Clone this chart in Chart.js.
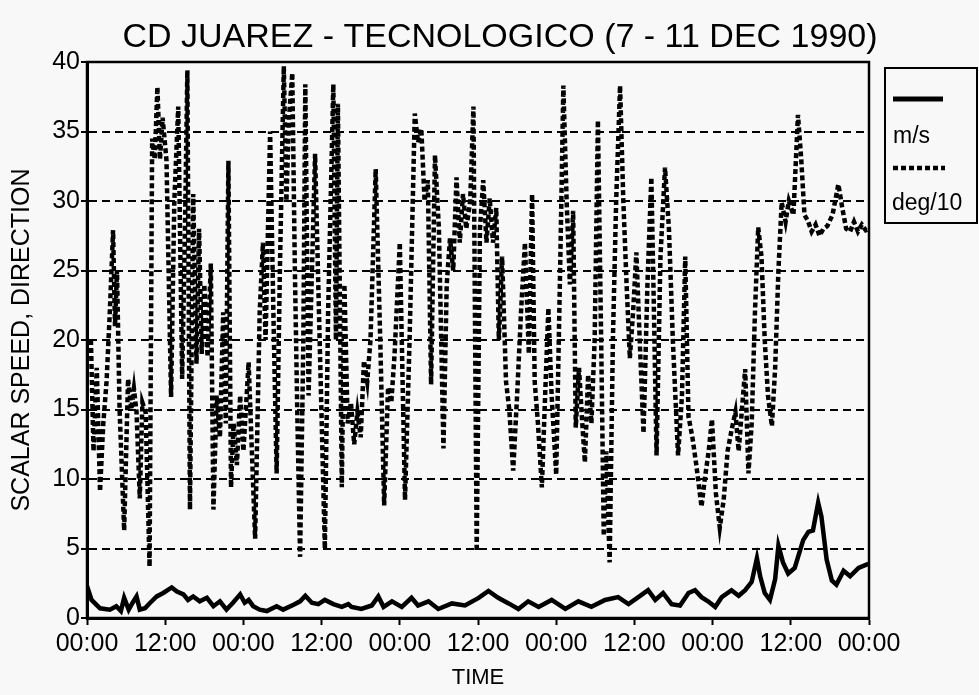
<!DOCTYPE html>
<html>
<head>
<meta charset="utf-8">
<script src="https://cdn.jsdelivr.net/npm/chart.js@4.4.1/dist/chart.umd.min.js"></script>
<style>
  html, body { margin: 0; padding: 0; background: #f8f8f8; }
  #wrap { width: 979px; height: 695px; }
</style>
</head>
<body>
<div id="wrap"><canvas id="chart" width="979" height="695"></canvas></div>
<script>
// hours since 00:00 on 7 Dec 1990
const speedHours = [0, 0.7, 2.0, 3.5, 4.5, 5.2, 5.7, 6.4, 7.0, 7.6, 8.1, 8.9, 9.7, 10.7, 11.7, 13.0, 13.8, 14.8, 15.5, 16.3,
  17.3, 18.4, 19.4, 20.4, 21.4, 22.4, 23.5, 24.2, 24.8, 25.5, 26.5, 27.6, 29.1, 30.1, 31.7, 32.7, 33.5, 34.5, 35.5, 36.5,
  37.8, 39.1, 40.1, 40.6, 42.1, 43.7, 44.7, 45.5, 46.8, 48.3, 49.8, 50.8, 52.4, 53.9, 56.0, 58.0, 60.1, 61.6, 63.1, 64.7,
  66.2, 67.7, 69.3, 71.3, 73.4, 75.4, 77.4, 79.5, 81.5, 83.1, 84.6, 86.1, 87.2, 88.4, 89.7, 91.0, 92.3, 93.3, 94.3, 95.3,
  96.4, 97.4, 98.9, 100.0, 101.0, 102.0, 102.8, 103.3, 104.0, 104.8, 105.6, 106.1, 106.8, 107.6, 108.6, 109.9, 110.7, 111.4, 112.2, 112.7,
  113.5, 114.3, 115.0, 116.1, 117.1, 118.4, 119.9];
const speedMs = [2.3, 1.3, 0.7, 0.6, 0.85, 0.5, 1.45, 0.6, 1.1, 1.55, 0.6, 0.7, 1.1, 1.55, 1.8, 2.2, 1.9, 1.7, 1.3, 1.55,
  1.2, 1.45, 0.85, 1.2, 0.6, 1.1, 1.7, 1.1, 1.3, 0.85, 0.6, 0.5, 0.85, 0.6, 0.95, 1.2, 1.6, 1.1, 1.0, 1.3,
  1.0, 0.8, 1.0, 0.8, 0.65, 0.9, 1.55, 0.8, 1.2, 0.8, 1.45, 0.9, 1.2, 0.65, 1.05, 0.9, 1.45, 1.95, 1.45, 1.05,
  0.65, 1.2, 0.8, 1.3, 0.65, 1.2, 0.8, 1.3, 1.5, 1.0, 1.5, 2.0, 1.3, 1.8, 1.0, 0.9, 1.8, 2.0, 1.5, 1.2,
  0.8, 1.5, 2.0, 1.6, 2.0, 2.6, 4.3, 3.0, 1.8, 1.3, 2.8, 5.2, 4.0, 3.2, 3.6, 5.6, 6.2, 6.3, 8.3, 7.3,
  4.2, 2.7, 2.4, 3.4, 3.0, 3.6, 3.9];

const dirHours = [0.6, 1.0, 1.5, 2.0, 2.5, 3.0, 3.5, 4.0, 4.3, 4.6, 5.0, 5.7, 6.3, 6.8, 7.2, 7.6, 8.1, 8.5, 9.0, 9.6,
  10.0, 10.4, 10.8, 11.2, 11.6, 12.2, 12.9, 13.4, 14.0, 14.6, 15.0, 15.4, 15.8, 16.3, 16.8, 17.2, 17.6, 18.0, 18.5, 19.0,
  19.4, 19.9, 20.4, 20.9, 21.3, 21.7, 22.1, 22.5, 23.0, 23.5, 24.0, 24.8, 25.3, 25.8, 26.5, 27.0, 27.4, 28.1, 28.6, 29.1,
  29.6, 30.2, 30.6, 31.0, 31.5, 31.9, 32.3, 32.7, 33.2, 33.5, 34.0, 35.0, 35.7, 36.5, 37.0, 37.8, 38.2, 38.5, 39.1, 39.5,
  40.0, 40.5, 41.0, 41.5, 42.0, 42.5, 43.0, 43.5, 44.3, 45.0, 45.6, 46.2, 46.7, 47.2, 48.0, 48.8, 49.5, 50.3, 50.8, 51.3,
  51.8, 52.3, 52.8, 53.4, 54.0, 54.7, 55.2, 55.7, 56.2, 56.7, 57.2, 57.7, 58.2, 58.8, 59.3, 59.8, 60.3, 60.8, 61.3, 61.8,
  62.3, 62.8, 63.2, 63.7, 64.3, 64.8, 65.4, 66.0, 66.6, 67.2, 67.8, 68.3, 68.7, 69.2, 69.8, 70.3, 70.8, 71.3, 72.0, 72.6,
  73.1, 73.6, 74.1, 74.6, 75.0, 75.5, 76.0, 76.4, 76.9, 77.4, 77.9, 78.4, 78.9, 79.3, 79.7, 80.2, 80.7, 81.2, 81.8, 82.3,
  82.8, 83.3, 83.8, 84.3, 84.9, 85.4, 86.0, 86.6, 87.0, 87.4, 88.0, 88.7, 89.3, 89.9, 90.7, 91.3, 91.8, 92.3, 92.9, 93.5,
  94.3, 94.8, 95.4, 95.9, 96.5, 97.1, 97.7, 98.3, 98.9, 99.5, 100.0, 100.5, 101.0, 101.5, 102.0, 102.5, 103.0, 103.5, 104.0, 104.5,
  105.1, 105.6, 106.1, 106.6, 107.2, 107.7, 108.4, 109.1, 109.6, 110.1, 110.6, 111.2, 111.8, 112.4, 113.0, 113.6, 114.4, 115.3, 115.9, 116.5,
  117.1, 117.7, 118.3, 118.9, 119.5, 120.0];
const dirDeg10 = [20, 12, 18, 9.1, 14, 17, 22, 27.9, 21, 25, 15, 6.3, 17.2, 15, 16.5, 14.8, 8.6, 15.5, 14.8, 3.7,
  34.5, 33, 38.2, 33, 36, 32.9, 15.9, 30, 36.8, 17.2, 27, 39.4, 7.8, 30.5, 18.3, 28, 19, 24, 18.8, 25.5,
  7.8, 16, 13, 22, 14, 32.9, 9.4, 14, 11, 16, 12, 18.4, 12, 5.7, 22, 27, 20, 35, 22, 10.4,
  25, 39.7, 30, 36, 39.2, 25, 14, 4.4, 20, 38.4, 16, 33.4, 20, 5.0, 22, 38.4, 20, 37, 9.4, 24,
  14, 15.5, 12.5, 14.8, 13, 18.5, 17, 20, 32.3, 20, 8.1, 16.6, 15.5, 19, 27, 8.5, 20, 36.3, 34.2, 35.2,
  30, 31.5, 16.8, 33.3, 28, 12.2, 24, 27.3, 25, 31.7, 27, 30.5, 28, 30, 36.8, 4.8, 28, 31.5, 27, 30.2,
  27, 29.5, 20, 26, 17, 15, 10.6, 16, 22, 27, 19, 30.5, 17, 14, 9.4, 16, 22.3, 16, 10.3, 25,
  38.3, 30, 24, 29.3, 13.7, 18, 14, 11.2, 17.5, 14, 20, 35.8, 20, 5.9, 12, 4.0, 20, 30, 38.3, 30,
  24, 18.7, 22, 26.3, 19, 13.3, 24, 31.7, 22, 11.7, 26, 32.4, 28, 20, 11.7, 16, 26, 14.5, 13, 11,
  8.0, 10, 12, 14.3, 9, 6.5, 8.5, 12, 13.5, 14.8, 12, 15, 17.9, 10.4, 14, 22, 28.1, 26, 20, 16,
  13.8, 18, 25, 29.9, 28.5, 30, 29, 36.2, 33, 29, 28.6, 27.8, 28.3, 27.5, 28, 28.2, 29, 31.2, 29.5, 28,
  27.8, 28.5, 27.8, 28.3, 27.9, 28];

const seriesNames = ['m/s', 'deg/10'];
const chartTitle = 'CD JUAREZ - TECNOLOGICO (7 - 11 DEC 1990)';

const INK = '#000';
const FONT = "'Liberation Sans', Arial, Helvetica, sans-serif";
const DIR_DASH = [5, 3];

function points(xs, ys) {
  return xs.map((x, i) => ({ x, y: ys[i] }));
}

// title, plot frame and the boxed legend at the right
const decor = {
  id: 'decor',
  afterDraw(chart) {
    const { ctx, chartArea: a } = chart;
    ctx.save();
    ctx.strokeStyle = INK;
    ctx.lineWidth = 2.5;
    ctx.setLineDash([]);
    ctx.strokeRect(a.left, a.top, a.right - a.left, a.bottom - a.top);

    ctx.fillStyle = INK;
    ctx.font = '34px ' + FONT;
    ctx.textAlign = 'center';
    ctx.textBaseline = 'alphabetic';
    ctx.fillText(chartTitle, 500, 47);

    // legend
    ctx.lineWidth = 2;
    ctx.strokeRect(885, 68, 92, 155);
    ctx.lineWidth = 5;
    ctx.beginPath();
    ctx.moveTo(893, 99);
    ctx.lineTo(943, 99);
    ctx.stroke();
    ctx.setLineDash(DIR_DASH);
    ctx.lineWidth = 4.5;
    ctx.beginPath();
    ctx.moveTo(893, 168);
    ctx.lineTo(945, 168);
    ctx.stroke();
    ctx.setLineDash([]);
    ctx.font = '23px ' + FONT;
    ctx.textAlign = 'left';
    ctx.fillText(seriesNames[0], 893, 143);
    ctx.fillText(seriesNames[1], 892, 210);
    ctx.restore();
  }
};

new Chart(document.getElementById('chart'), {
  type: 'line',
  data: {
    datasets: [
      {
        label: seriesNames[0],
        data: points(speedHours, speedMs),
        borderColor: INK,
        borderWidth: 4.5,
        pointRadius: 0,
        tension: 0
      },
      {
        label: seriesNames[1],
        data: points(dirHours, dirDeg10),
        borderColor: INK,
        borderWidth: 4.5,
        borderDash: DIR_DASH,
        pointRadius: 0,
        tension: 0
      }
    ]
  },
  options: {
    responsive: false,
    animation: false,
    layout: { padding: { top: 62, right: 110, left: 0, bottom: 0 } },
    plugins: {
      legend: { display: false },
      title: { display: false },
      tooltip: { enabled: false }
    },
    scales: {
      x: {
        type: 'linear',
        min: 0,
        max: 120,
        afterFit: s => { s.height = 77; },
        afterBuildTicks: s => {
          s.ticks = [];
          for (let h = 0; h <= 120; h += 12) s.ticks.push({ value: h });
        },
        ticks: {
          color: INK,
          padding: 4,
          maxRotation: 0,
          font: { family: FONT, size: 25 },
          callback: v => (v % 24 === 0 ? '00:00' : '12:00')
        },
        grid: { drawOnChartArea: false, drawTicks: true, tickLength: 7, tickWidth: 2, tickColor: INK },
        border: { color: INK, width: 3 },
        title: { display: true, text: 'TIME', color: INK, font: { family: FONT, size: 22 }, padding: { top: 0, bottom: 4 } }
      },
      y: {
        min: 0,
        max: 40,
        afterFit: s => { s.width = 87; },
        ticks: { stepSize: 5, color: INK, padding: 1, font: { family: FONT, size: 25 } },
        grid: { color: INK, lineWidth: 2, tickLength: 6, tickWidth: 2, tickColor: INK, tickBorderDash: [] },
        border: { color: INK, width: 3, dash: [8, 5] },
        title: { display: true, text: 'SCALAR SPEED, DIRECTION', color: INK, font: { family: FONT, size: 25 }, padding: { top: 7, bottom: 0 } }
      }
    }
  },
  plugins: [decor]
});
</script>
</body>
</html>
